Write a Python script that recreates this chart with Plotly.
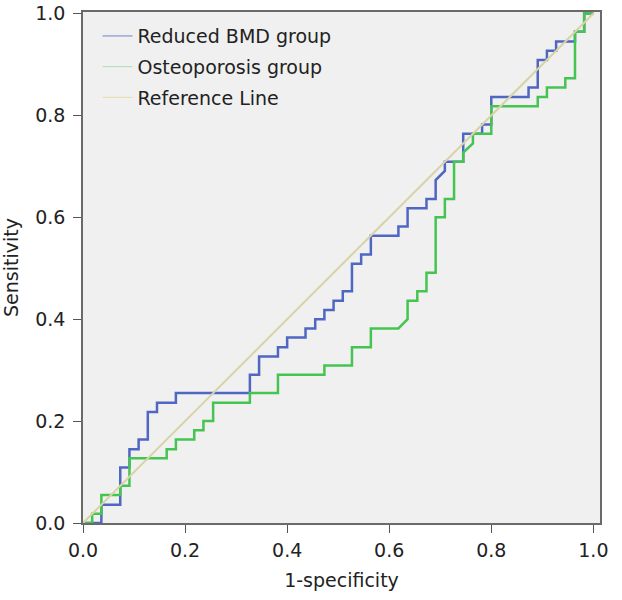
import plotly.graph_objects as go

# ROC coordinates (1-specificity, sensitivity)
bmd_fpr = [0, 0.036, 0.036, 0.073, 0.073, 0.091, 0.091, 0.109, 0.109, 0.127, 0.127, 0.145, 0.145,
           0.182, 0.182, 0.327, 0.327, 0.345, 0.345, 0.382, 0.382, 0.4, 0.4, 0.436, 0.436, 0.455,
           0.455, 0.473, 0.473, 0.491, 0.491, 0.509, 0.509, 0.527, 0.527, 0.545, 0.545, 0.564,
           0.564, 0.618, 0.618, 0.636, 0.636, 0.673, 0.673, 0.691, 0.691, 0.709, 0.709, 0.745,
           0.745, 0.782, 0.782, 0.8, 0.8, 0.873, 0.873, 0.891, 0.891, 0.909, 0.909, 0.927, 0.927,
           0.964, 0.964, 0.982, 0.982, 1]
bmd_tpr = [0, 0, 0.036, 0.036, 0.109, 0.109, 0.145, 0.145, 0.164, 0.164, 0.218, 0.218, 0.236,
           0.236, 0.255, 0.255, 0.291, 0.291, 0.327, 0.327, 0.345, 0.345, 0.364, 0.364, 0.382,
           0.382, 0.4, 0.4, 0.418, 0.418, 0.436, 0.436, 0.455, 0.455, 0.509, 0.509, 0.527, 0.527,
           0.564, 0.564, 0.582, 0.582, 0.618, 0.618, 0.636, 0.636, 0.673, 0.691, 0.709, 0.709,
           0.764, 0.764, 0.782, 0.782, 0.836, 0.836, 0.855, 0.855, 0.909, 0.909, 0.927, 0.927,
           0.945, 0.945, 0.964, 0.964, 1, 1]

osteo_fpr = [0, 0.018, 0.018, 0.036, 0.036, 0.073, 0.073, 0.091, 0.091, 0.164, 0.164, 0.182,
             0.182, 0.218, 0.218, 0.236, 0.236, 0.255, 0.255, 0.327, 0.327, 0.382, 0.382, 0.473,
             0.473, 0.527, 0.527, 0.564, 0.564, 0.618, 0.636, 0.636, 0.655, 0.655, 0.673, 0.673,
             0.691, 0.691, 0.709, 0.709, 0.727, 0.727, 0.745, 0.745, 0.764, 0.764, 0.8, 0.8,
             0.891, 0.891, 0.909, 0.909, 0.945, 0.945, 0.964, 0.964, 0.982, 0.982, 1]
osteo_tpr = [0, 0, 0.018, 0.018, 0.055, 0.055, 0.073, 0.073, 0.127, 0.127, 0.145, 0.145, 0.164,
             0.164, 0.182, 0.182, 0.2, 0.2, 0.236, 0.236, 0.255, 0.255, 0.291, 0.291, 0.309,
             0.309, 0.345, 0.345, 0.382, 0.382, 0.4, 0.436, 0.436, 0.455, 0.455, 0.491, 0.491,
             0.6, 0.6, 0.636, 0.636, 0.709, 0.709, 0.727, 0.745, 0.764, 0.764, 0.818, 0.818,
             0.836, 0.836, 0.855, 0.855, 0.873, 0.873, 0.964, 0.964, 1, 1]

ref_x = [0, 1]
ref_y = [0, 1]

tick_vals = [0, 0.2, 0.4, 0.6, 0.8, 1.0]
tick_text = ["0.0", "0.2", "0.4", "0.6", "0.8", "1.0"]

blue = "#4f66c2"
green = "#45c452"
tan = "#d8d3a6"

fig = go.Figure()
fig.add_trace(go.Scatter(x=bmd_fpr, y=bmd_tpr, mode="lines",
                         line=dict(color=blue, width=2.5), showlegend=False))
fig.add_trace(go.Scatter(x=osteo_fpr, y=osteo_tpr, mode="lines",
                         line=dict(color=green, width=2.5), showlegend=False))
fig.add_trace(go.Scatter(x=ref_x, y=ref_y, mode="lines",
                         line=dict(color=tan, width=2), showlegend=False))

# thin legend samples, like the original
for name, col in [("Reduced BMD group", "#6f80cc"),
                  ("Osteoporosis group", "#a8dfb8"),
                  ("Reference Line", "#e6dcaa")]:
    fig.add_trace(go.Scatter(x=[None], y=[None], mode="lines", name=name,
                             legendgroup=name, line=dict(color=col, width=1)))

axis_common = dict(
    tickvals=tick_vals, ticktext=tick_text, ticks="outside", ticklen=8,
    tickcolor="#555555", tickwidth=1.2, showgrid=False, zeroline=False,
    showline=True, linecolor="#6a6a6a", linewidth=1.5, mirror=True,
    tickfont=dict(size=19, color="#222222"),
    automargin=False,
)

fig.update_xaxes(range=[0, 1.013], ticklabelstandoff=1,
                 title=dict(text="1-specificity", font=dict(size=19, color="#222222"), standoff=14),
                 **axis_common)
fig.update_yaxes(range=[0, 1.003], ticklabelstandoff=4,
                 title=dict(text="Sensitivity", font=dict(size=19, color="#222222"), standoff=16),
                 **axis_common)

fig.update_layout(
    width=622, height=600,
    margin=dict(l=83, r=22, t=12, b=77),
    plot_bgcolor="#f0f0f0", paper_bgcolor="white",
    font=dict(family="DejaVu Sans", size=19, color="#222222"),
    legend=dict(x=0.028, y=0.99, xanchor="left", yanchor="top",
                bgcolor="rgba(0,0,0,0)", tracegroupgap=3,
                font=dict(size=19)),
)

# drop the page's default body margin so the figure fills the window
fig.write_html("out.html", config={"displayModeBar": False},
               post_script="document.body.style.margin = '0';")
